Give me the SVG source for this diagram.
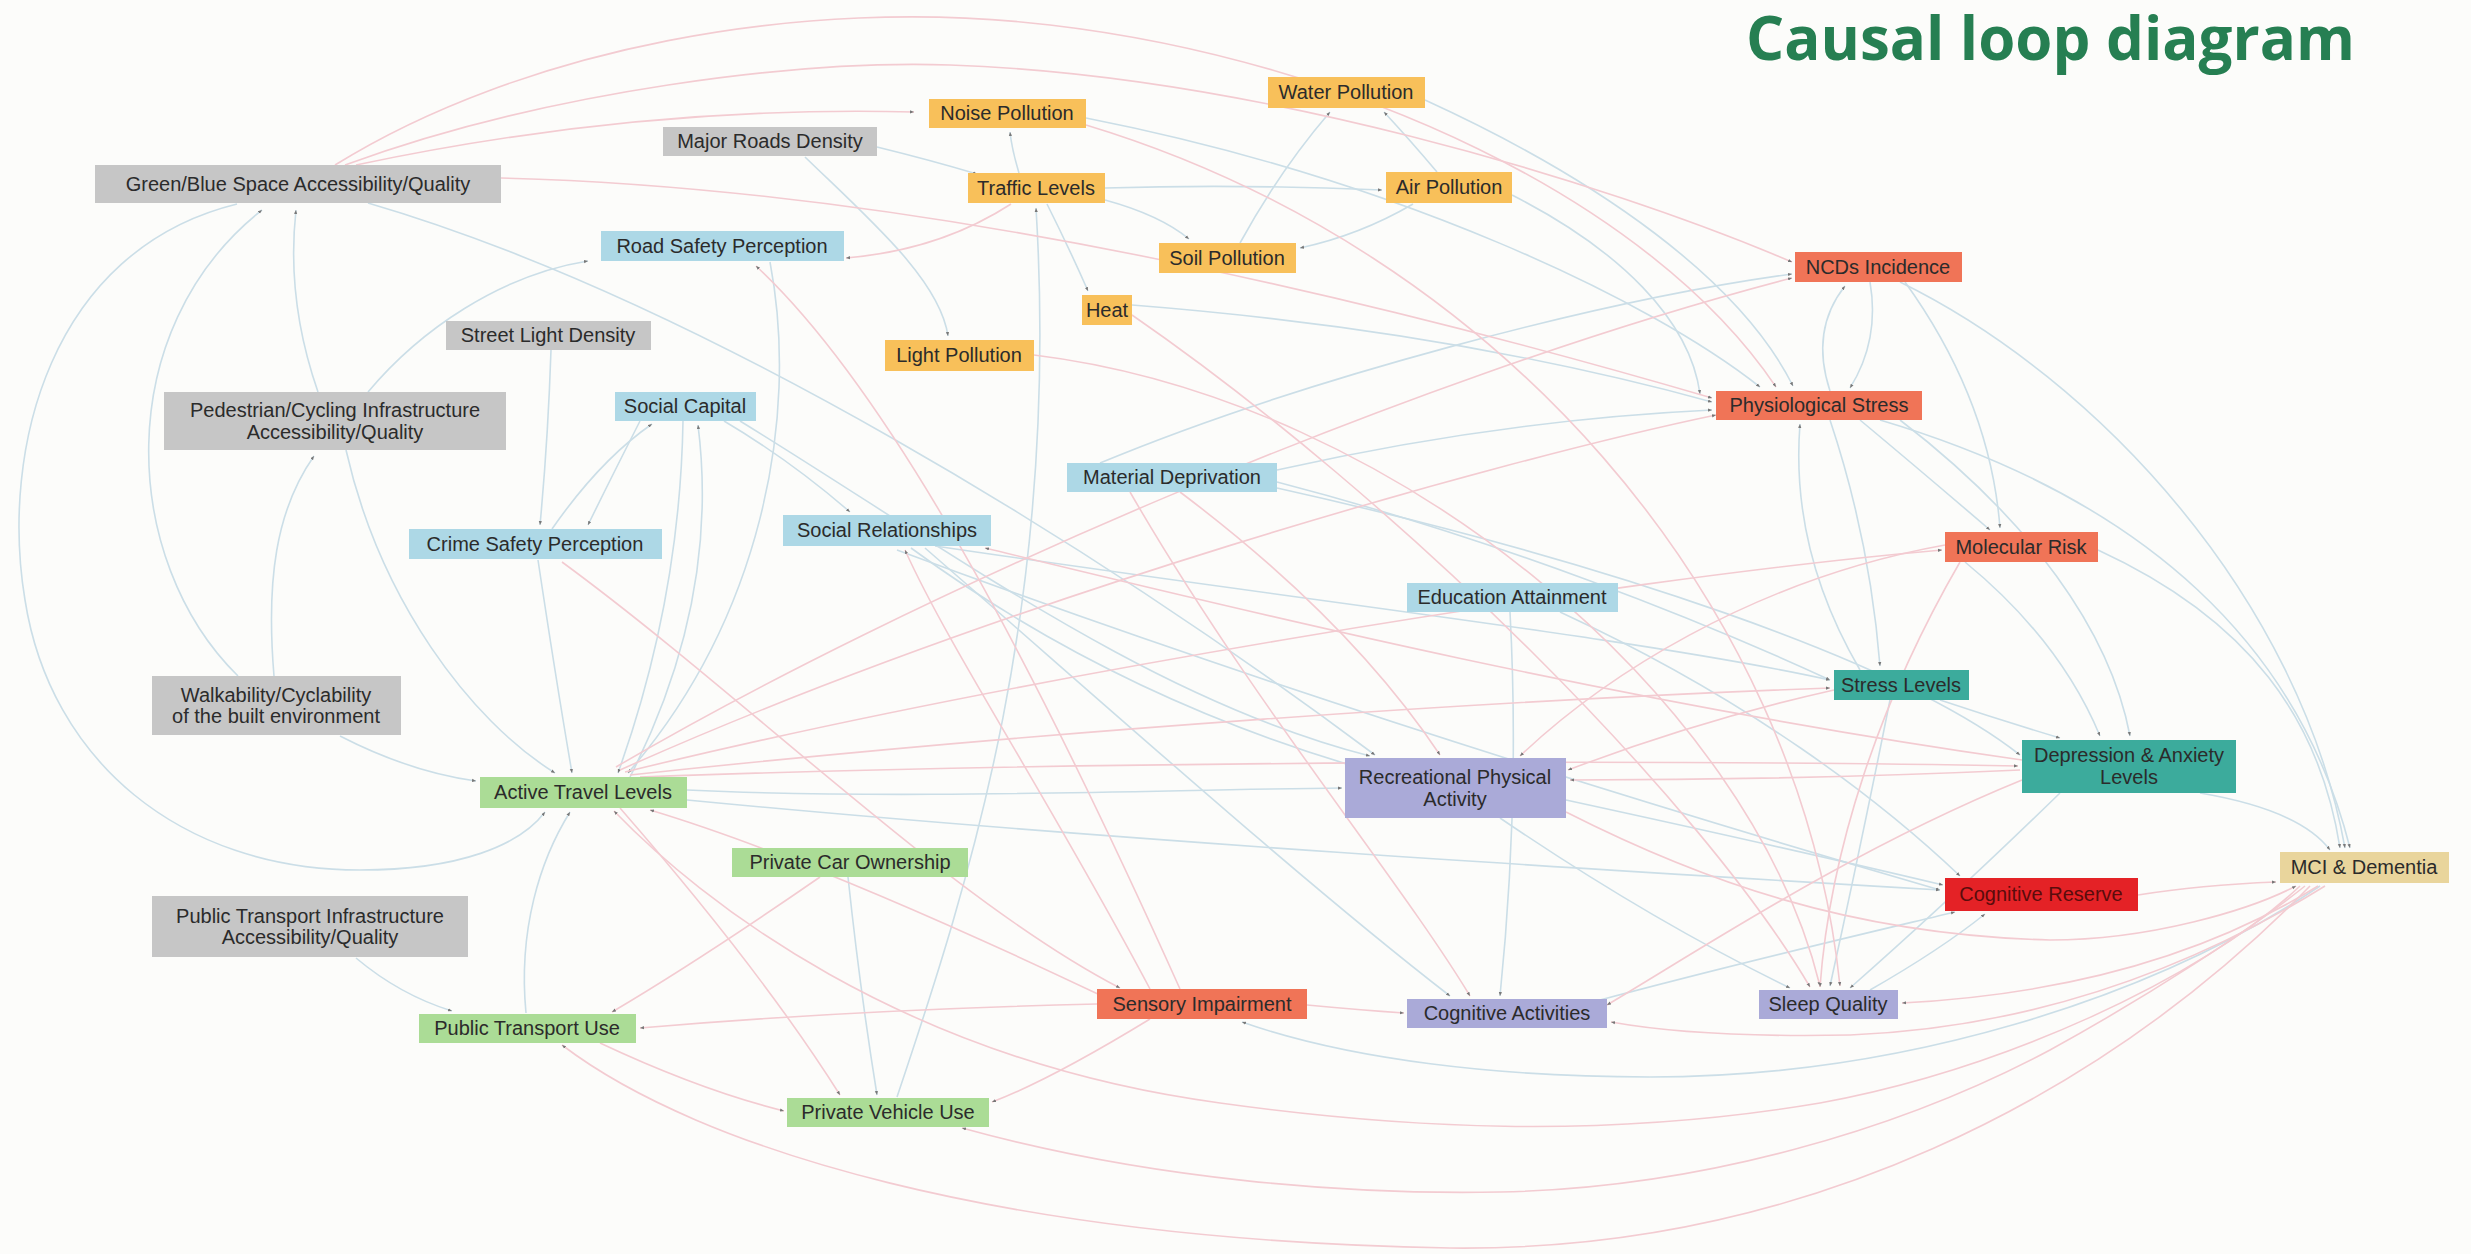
<svg xmlns="http://www.w3.org/2000/svg" width="2471" height="1254" viewBox="0 0 2471 1254">
<style>
  .lbl{font-family:"Liberation Sans",Arial,sans-serif;font-size:20px;fill:#2b2b2b;text-anchor:middle}
  .title{font-family:"Open Sans","Liberation Sans",sans-serif;font-weight:700;font-size:60px;fill:#267F52}
  .grey{fill:#C6C6C6}.orange{fill:#F8C05A}.lblue{fill:#ADD8E6}.salmon{fill:#F07457}
  .teal{fill:#3CAB9C}.green{fill:#ABDC96}.lav{fill:#AAAAD8}.red{fill:#E42226}.tan{fill:#E9D59C}
  #connectors path{fill:none;stroke-width:1.6}
  #connectors .p{stroke:#F3CBD1;marker-end:url(#arr)}
  #connectors .b{stroke:#CBDEE7;marker-end:url(#arr)}
</style>
<defs>
  <marker id="arr" markerUnits="userSpaceOnUse" markerWidth="5" markerHeight="5" refX="4" refY="2" orient="auto">
    <path d="M0,0.4 L4,2 L0,3.6 z" fill="#777"/>
  </marker>
</defs>
<rect x="0" y="0" width="2471" height="1254" fill="#FCFCFA"/>

<g id="connectors">
  <!-- positive links -->
  <path class="b" d="M237,204 C50,250 0,450 25,600 C50,760 180,870 360,870 C460,870 520,845 545,812"/>
  <path class="b" d="M238,676 C120,560 110,330 262,210"/>
  <path class="b" d="M318,392 Q286,300 296,210"/>
  <path class="b" d="M274,676 C266,580 276,510 314,456"/>
  <path class="b" d="M346,450 C380,600 470,720 555,773"/>
  <path class="b" d="M340,736 Q410,772 476,781"/>
  <path class="b" d="M551,350 Q548,440 540,525"/>
  <path class="b" d="M538,560 Q556,680 572,773"/>
  <path class="b" d="M368,392 C420,330 500,275 588,261"/>
  <path class="b" d="M356,958 Q400,995 452,1011"/>
  <path class="b" d="M526,1013 C518,930 540,860 570,812"/>
  <path class="b" d="M640,421 Q610,480 588,525"/>
  <path class="b" d="M552,529 Q600,460 652,424"/>
  <path class="b" d="M683,421 Q680,600 618,773"/>
  <path class="b" d="M630,777 Q720,600 698,425"/>
  <path class="b" d="M770,262 C800,420 760,620 628,773"/>
  <path class="b" d="M877,147 Q930,160 977,174"/>
  <path class="b" d="M1019,173 Q1012,150 1010,132"/>
  <path class="b" d="M805,157 C870,220 940,280 948,336"/>
  <path class="b" d="M1047,204 Q1070,250 1088,291"/>
  <path class="b" d="M1105,200 Q1160,215 1189,239"/>
  <path class="b" d="M1240,243 Q1280,170 1330,112"/>
  <path class="b" d="M1413,204 Q1360,235 1300,248"/>
  <path class="b" d="M1437,172 Q1410,140 1384,112"/>
  <path class="b" d="M1105,188 Q1240,184 1382,190"/>
  <path class="b" d="M897,1097 C970,880 1060,600 1036,208"/>
  <path class="b" d="M1425,100 C1600,180 1740,280 1793,386"/>
  <path class="b" d="M1512,195 C1620,250 1690,320 1700,394"/>
  <path class="b" d="M1086,118 C1400,180 1650,300 1760,387"/>
  <path class="b" d="M1132,305 Q1450,330 1712,402"/>
  <path class="b" d="M1830,391 Q1810,330 1845,286"/>
  <path class="b" d="M1870,282 Q1880,340 1850,388"/>
  <path class="b" d="M1900,282 C2100,380 2300,600 2345,848"/>
  <path class="b" d="M1880,420 C2150,500 2300,650 2350,848"/>
  <path class="b" d="M2098,550 C2250,620 2320,720 2340,848"/>
  <path class="b" d="M2200,793 Q2300,810 2330,850"/>
  <path class="b" d="M1860,420 Q1920,470 1990,530"/>
  <path class="b" d="M1905,282 Q1990,400 2000,528"/>
  <path class="b" d="M1965,562 Q2060,640 2100,736"/>
  <path class="b" d="M1830,420 Q1870,540 1880,666"/>
  <path class="b" d="M1860,670 Q1790,550 1800,424"/>
  <path class="b" d="M1940,700 Q2000,720 2060,738"/>
  <path class="b" d="M1900,420 C2030,520 2110,630 2130,736"/>
  <path class="b" d="M2060,793 Q1950,900 1850,988"/>
  <path class="b" d="M1890,700 Q1860,850 1830,986"/>
  <path class="b" d="M1100,463 C1300,380 1600,300 1792,274"/>
  <path class="b" d="M1277,470 Q1500,420 1712,410"/>
  <path class="b" d="M1277,482 C1500,540 1700,620 1830,680"/>
  <path class="b" d="M1277,488 C1600,560 1900,660 2020,755"/>
  <path class="b" d="M911,548 C1050,650 1200,720 1350,765"/>
  <path class="b" d="M925,548 C1100,700 1300,880 1450,996"/>
  <path class="b" d="M897,550 C1300,700 1700,820 1940,890"/>
  <path class="b" d="M724,421 Q790,460 850,512"/>
  <path class="b" d="M740,421 C950,550 1150,700 1370,756"/>
  <path class="b" d="M1560,612 C1750,700 1880,800 1960,876"/>
  <path class="b" d="M1510,612 Q1520,800 1500,996"/>
  <path class="b" d="M1600,1000 C1750,960 1880,930 1955,912"/>
  <path class="b" d="M1566,800 C1750,840 1880,870 1943,885"/>
  <path class="b" d="M1500,818 Q1650,920 1790,988"/>
  <path class="b" d="M1870,990 Q1940,950 1985,914"/>
  <path class="b" d="M848,877 Q860,990 877,1095"/>
  <path class="b" d="M687,790 C900,800 1150,790 1342,788"/>
  <path class="b" d="M687,800 C1100,840 1600,870 1940,890"/>
  <path class="b" d="M368,203 C700,300 1100,550 1375,755"/>
  <path class="b" d="M935,546 C1300,600 1650,640 1830,680"/>
  <path class="b" d="M2320,886 C2150,1000 1900,1077 1650,1077 C1500,1077 1350,1060 1242,1022"/>
  <!-- negative links -->
  <path class="p" d="M356,165 Q640,105 914,112"/>
  <path class="p" d="M335,165 C520,50 800,-5 1050,25 C1350,60 1650,200 1776,387"/>
  <path class="p" d="M345,165 C550,90 800,60 950,65 C1250,75 1600,180 1792,262"/>
  <path class="p" d="M501,178 Q1000,190 1712,398"/>
  <path class="p" d="M1011,204 Q940,250 846,258"/>
  <path class="p" d="M616,767 C900,600 1400,380 1792,278"/>
  <path class="p" d="M620,770 C1000,600 1500,460 1716,415"/>
  <path class="p" d="M625,772 C1000,680 1600,580 1942,550"/>
  <path class="p" d="M630,775 C1050,730 1500,700 1830,688"/>
  <path class="p" d="M640,777 C1100,760 1700,760 2018,766"/>
  <path class="p" d="M2300,886 C2200,980 2000,1070 1820,1103 C1600,1140 1400,1128 1220,1103 C900,1060 700,900 614,811"/>
  <path class="p" d="M2305,886 C2250,930 2150,995 2050,1050 C1900,1130 1700,1188 1500,1192 C1350,1195 1150,1180 962,1128"/>
  <path class="p" d="M2310,886 C2100,1100 1800,1252 1450,1248 C1000,1240 700,1150 562,1045"/>
  <path class="p" d="M600,1043 Q700,1090 784,1111"/>
  <path class="p" d="M2325,886 Q2100,1025 1850,1035 Q1700,1038 1611,1022"/>
  <path class="p" d="M2318,886 Q2150,990 1902,1003"/>
  <path class="p" d="M1566,812 C1700,880 1850,935 2050,940 C2150,940 2250,910 2296,886"/>
  <path class="p" d="M2138,895 Q2200,885 2276,882"/>
  <path class="p" d="M1150,989 C1050,800 950,650 905,550"/>
  <path class="p" d="M1100,995 C900,900 750,840 650,810"/>
  <path class="p" d="M620,808 C700,900 780,1000 840,1095"/>
  <path class="p" d="M1307,1005 Q1360,1010 1404,1013"/>
  <path class="p" d="M1097,1004 Q850,1010 640,1028"/>
  <path class="p" d="M1150,1019 Q1050,1080 992,1102"/>
  <path class="p" d="M820,877 Q700,960 612,1012"/>
  <path class="p" d="M1180,492 Q1350,620 1440,755"/>
  <path class="p" d="M1130,492 C1250,700 1400,880 1470,996"/>
  <path class="p" d="M1132,315 C1400,500 1700,800 1810,987"/>
  <path class="p" d="M1034,355 C1400,400 1750,700 1820,986"/>
  <path class="p" d="M1086,125 C1500,250 1800,600 1840,986"/>
  <path class="p" d="M1180,989 C1050,700 900,400 756,266"/>
  <path class="p" d="M562,562 C750,700 950,900 1120,988"/>
  <path class="p" d="M2020,770 Q1800,780 1570,780"/>
  <path class="p" d="M1834,690 Q1700,720 1568,770"/>
  <path class="p" d="M1960,562 C1880,700 1830,850 1820,987"/>
  <path class="p" d="M1945,545 C1750,580 1600,680 1520,756"/>
  <path class="p" d="M2022,780 C1850,850 1700,950 1607,1005"/>
  <path class="p" d="M2022,760 C1600,700 1200,600 985,548"/>
</g>

<text class="title" x="1746" y="60">Causal loop diagram</text>

<g id="node-green-blue-space"><rect class="grey" x="95" y="165" width="406" height="38"/><text class="lbl" x="298" y="191">Green/Blue Space Accessibility/Quality</text></g>
<g id="node-major-roads"><rect class="grey" x="663" y="127" width="214" height="29"/><text class="lbl" x="770" y="148">Major Roads Density</text></g>
<g id="node-noise"><rect class="orange" x="929" y="99" width="157" height="29"/><text class="lbl" x="1007" y="120">Noise Pollution</text></g>
<g id="node-water"><rect class="orange" x="1268" y="77" width="157" height="31"/><text class="lbl" x="1346" y="99">Water Pollution</text></g>
<g id="node-traffic"><rect class="orange" x="968" y="173" width="137" height="30"/><text class="lbl" x="1036" y="195">Traffic Levels</text></g>
<g id="node-air"><rect class="orange" x="1386" y="172" width="126" height="31"/><text class="lbl" x="1449" y="194">Air Pollution</text></g>
<g id="node-road-safety"><rect class="lblue" x="601" y="231" width="243" height="30"/><text class="lbl" x="722" y="253">Road Safety Perception</text></g>
<g id="node-soil"><rect class="orange" x="1159" y="243" width="137" height="30"/><text class="lbl" x="1227" y="265">Soil Pollution</text></g>
<g id="node-heat"><rect class="orange" x="1082" y="295" width="50" height="30"/><text class="lbl" x="1107" y="317">Heat</text></g>
<g id="node-street-light"><rect class="grey" x="446" y="321" width="205" height="29"/><text class="lbl" x="548" y="342">Street Light Density</text></g>
<g id="node-light"><rect class="orange" x="885" y="340" width="149" height="31"/><text class="lbl" x="959" y="362">Light Pollution</text></g>
<g id="node-ncds"><rect class="salmon" x="1795" y="252" width="167" height="30"/><text class="lbl" x="1878" y="274">NCDs Incidence</text></g>
<g id="node-physio-stress"><rect class="salmon" x="1716" y="391" width="206" height="29"/><text class="lbl" x="1819" y="412">Physiological Stress</text></g>
<g id="node-ped-cycling"><rect class="grey" x="164" y="392" width="342" height="58"/><text class="lbl" x="335" y="417">Pedestrian/Cycling Infrastructure</text><text class="lbl" x="335" y="439">Accessibility/Quality</text></g>
<g id="node-social-capital"><rect class="lblue" x="615" y="392" width="141" height="29"/><text class="lbl" x="685" y="413">Social Capital</text></g>
<g id="node-material"><rect class="lblue" x="1067" y="463" width="210" height="29"/><text class="lbl" x="1172" y="484">Material Deprivation</text></g>
<g id="node-crime-safety"><rect class="lblue" x="409" y="529" width="253" height="30"/><text class="lbl" x="535" y="551">Crime Safety Perception</text></g>
<g id="node-social-rel"><rect class="lblue" x="783" y="515" width="208" height="31"/><text class="lbl" x="887" y="537">Social Relationships</text></g>
<g id="node-molecular"><rect class="salmon" x="1945" y="532" width="153" height="30"/><text class="lbl" x="2021" y="554">Molecular Risk</text></g>
<g id="node-education"><rect class="lblue" x="1407" y="583" width="211" height="29"/><text class="lbl" x="1512" y="604">Education Attainment</text></g>
<g id="node-stress"><rect class="teal" x="1834" y="670" width="135" height="30"/><text class="lbl" x="1901" y="692">Stress Levels</text></g>
<g id="node-walkability"><rect class="grey" x="152" y="676" width="249" height="59"/><text class="lbl" x="276" y="702">Walkability/Cyclability</text><text class="lbl" x="276" y="723">of the built environment</text></g>
<g id="node-depression"><rect class="teal" x="2022" y="740" width="214" height="53"/><text class="lbl" x="2129" y="762">Depression &amp; Anxiety</text><text class="lbl" x="2129" y="784">Levels</text></g>
<g id="node-active-travel"><rect class="green" x="480" y="777" width="207" height="31"/><text class="lbl" x="583" y="799">Active Travel Levels</text></g>
<g id="node-recreational"><rect class="lav" x="1345" y="758" width="221" height="60"/><text class="lbl" x="1455" y="784">Recreational Physical</text><text class="lbl" x="1455" y="806">Activity</text></g>
<g id="node-car-ownership"><rect class="green" x="732" y="848" width="236" height="29"/><text class="lbl" x="850" y="869">Private Car Ownership</text></g>
<g id="node-mci"><rect class="tan" x="2280" y="852" width="169" height="31"/><text class="lbl" x="2364" y="874">MCI &amp; Dementia</text></g>
<g id="node-cog-reserve"><rect class="red" x="1945" y="878" width="193" height="33"/><text class="lbl" x="2041" y="901" style="fill:#5a0c0c">Cognitive Reserve</text></g>
<g id="node-pt-infra"><rect class="grey" x="152" y="896" width="316" height="61"/><text class="lbl" x="310" y="923">Public Transport Infrastructure</text><text class="lbl" x="310" y="944">Accessibility/Quality</text></g>
<g id="node-sensory"><rect class="salmon" x="1097" y="989" width="210" height="30"/><text class="lbl" x="1202" y="1011">Sensory Impairment</text></g>
<g id="node-sleep"><rect class="lav" x="1759" y="990" width="139" height="29"/><text class="lbl" x="1828" y="1011">Sleep Quality</text></g>
<g id="node-cog-activities"><rect class="lav" x="1407" y="999" width="200" height="29"/><text class="lbl" x="1507" y="1020">Cognitive Activities</text></g>
<g id="node-pt-use"><rect class="green" x="419" y="1014" width="217" height="29"/><text class="lbl" x="527" y="1035">Public Transport Use</text></g>
<g id="node-vehicle-use"><rect class="green" x="787" y="1098" width="202" height="29"/><text class="lbl" x="888" y="1119">Private Vehicle Use</text></g>
</svg>
